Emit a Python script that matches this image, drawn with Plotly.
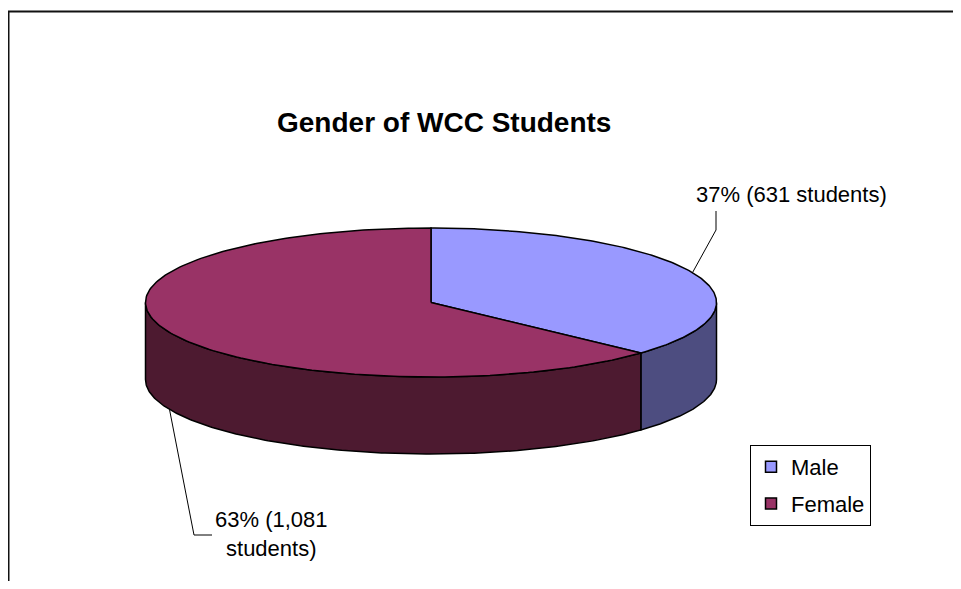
import numpy as np
import plotly.graph_objects as go

# ---- data ----
categories = ["Male", "Female"]
students = [631, 1081]
top_colors = ["#9999FF", "#993366"]
side_colors = ["#4D4D80", "#4D1A30"]
title_text = "Gender of WCC Students"

# ---- geometry (pixel space of the 961x589 window) ----
WIN_W, WIN_H = 961, 589
OFF = 8                      # default page body margin
W, H = WIN_W - 2 * OFF, WIN_H - 2 * OFF
cx, cy = 431, 302.5
rx, ry = 285.5, 74.5
depth = 77
FONT = "Liberation Sans, Arial, sans-serif"

total = sum(students)
fracs = [v / total for v in students]
pcts = [round(f * 100) for f in fracs]


def pt(phi_deg, dz=0.0):
    p = np.radians(phi_deg)
    return cx + rx * np.sin(p), cy - ry * np.cos(p) + dz


def arc(a0, a1, dz=0.0, n=200):
    ph = np.linspace(a0, a1, n)
    xs, ys = pt(ph, dz)
    return list(xs), list(ys)


fig = go.Figure()

# slice angle ranges (clockwise from 12 o'clock)
bounds = []
acc = 0.0
for f in fracs:
    bounds.append((acc * 360, (acc + f) * 360))
    acc += f

# side walls (front half: phi in [90, 270])
for i, (a0, a1) in enumerate(bounds):
    s0, s1 = max(a0, 90), min(a1, 270)
    if s1 <= s0:
        continue
    tx, ty = arc(s0, s1)
    bx, by = arc(s1, s0, depth)
    fig.add_trace(go.Scatter(
        x=tx + bx + [tx[0]], y=ty + by + [ty[0]], mode="lines", fill="toself",
        fillcolor=side_colors[i], line=dict(color="black", width=1.5),
        showlegend=False, hoverinfo="skip"))

# top faces
for i, (a0, a1) in enumerate(bounds):
    ax_, ay_ = arc(a0, a1)
    fig.add_trace(go.Scatter(
        x=[cx] + ax_ + [cx], y=[cy] + ay_ + [cy], mode="lines", fill="toself",
        fillcolor=top_colors[i], line=dict(color="black", width=1.5),
        showlegend=False, hovertemplate=f"{categories[i]}: {students[i]}<extra></extra>"))

# legend entries
for i, c in enumerate(categories):
    fig.add_trace(go.Scatter(
        x=[None], y=[None], mode="markers", name=c, legendgroup=c,
        marker=dict(symbol="square", size=11, color=top_colors[i],
                    line=dict(color="black", width=1.5))))

# data labels with leader lines
mid_m = (bounds[0][0] + bounds[0][1]) / 2
mx, my = pt(mid_m)
fig.add_trace(go.Scatter(x=[mx, 716, 716], y=[my, 230, 211], mode="lines",
                         line=dict(color="black", width=1), showlegend=False,
                         hoverinfo="skip"))
fig.add_annotation(x=791, y=194, xref="x", yref="y", showarrow=False,
                   text=f"{pcts[0]}% ({students[0]:,} students)",
                   font=dict(family=FONT, size=22, color="black"))

mid_f = (bounds[1][0] + bounds[1][1]) / 2
fx, fy = pt(mid_f, depth)
fig.add_trace(go.Scatter(x=[fx, 194, 212], y=[fy, 535, 535], mode="lines",
                         line=dict(color="black", width=1), showlegend=False,
                         hoverinfo="skip"))
fig.add_annotation(x=271, y=534, xref="x", yref="y", showarrow=False, align="center",
                   text=f"{pcts[1]}% ({students[1]:,}<br>students)",
                   font=dict(family=FONT, size=22, color="black"))

# title
fig.add_annotation(x=443.5, y=122, xref="x", yref="y", showarrow=False,
                   text=f"<b>{title_text}</b>",
                   font=dict(family=FONT, size=28, color="black"))

# chart frame (only top and left edges fall inside the window)
fig.add_shape(type="path", xref="x", yref="y",
              path=f"M {WIN_W + 20},11.5 L 8.5,11.5 L 8.5,{WIN_H + 20}",
              line=dict(color="#111111", width=2), layer="below")

fig.update_layout(
    width=W, height=H, margin=dict(l=0, r=0, t=0, b=0),
    paper_bgcolor="white", plot_bgcolor="white",
    xaxis=dict(range=[OFF, OFF + W], visible=False, fixedrange=True),
    yaxis=dict(range=[OFF + H, OFF], visible=False, fixedrange=True),
    showlegend=True,
    legend=dict(x=(750 - OFF) / W, y=1 - (445 - OFF) / H, xanchor="left", yanchor="top",
                bordercolor="black", borderwidth=1, bgcolor="white",
                font=dict(family=FONT, size=22, color="black"),
                traceorder="grouped", tracegroupgap=5),
    font=dict(family=FONT),
)

fig.write_html("out.html")
